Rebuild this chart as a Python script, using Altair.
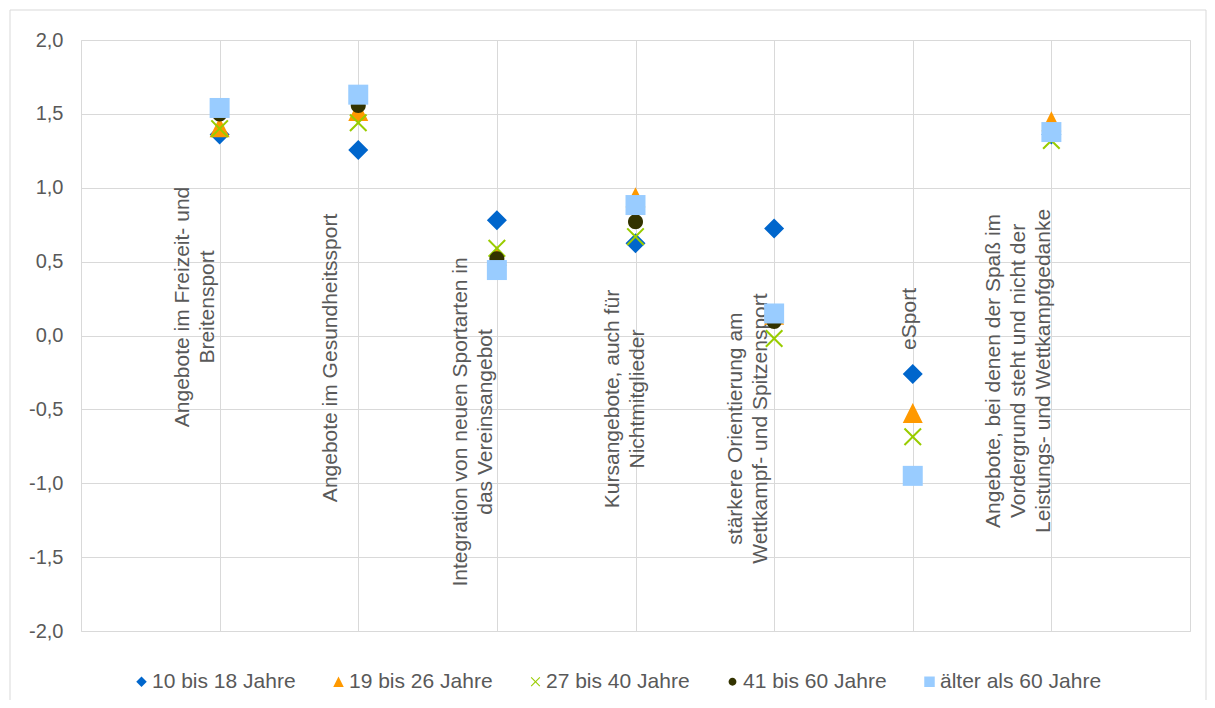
import altair as alt
import pandas as pd

categories = [
    "Angebote im Freizeit- und\nBreitensport",
    "Angebote im Gesundheitssport",
    "Integration von neuen Sportarten in\ndas Vereinsangebot",
    "Kursangebote, auch für\nNichtmitglieder",
    "stärkere Orientierung am\nWettkampf- und Spitzensport",
    "eSport",
    "Angebote, bei denen der Spaß im\nVordergrund steht und nicht der\nLeistungs- und Wettkampfgedanke",
]
series = ["10 bis 18 Jahre", "19 bis 26 Jahre", "27 bis 40 Jahre",
          "41 bis 60 Jahre", "älter als 60 Jahre"]

v_10_18 = [1.36, 1.255, 0.78, 0.624, 0.725, -0.26, 1.36]
v_19_26 = [1.41, 1.52, 0.54, 0.935, 0.14, -0.525, 1.45]
v_27_40 = [1.40, 1.44, 0.59, 0.669, -0.02, -0.685, 1.32]
v_41_60 = [1.50, 1.557, 0.52, 0.77, 0.095, -0.95, 1.37]
v_60plus = [1.54, 1.63, 0.443, 0.883, 0.149, -0.95, 1.377]

# category label anchors (value units) and shift (category units)
label_y = [0.193, -0.152, -0.585, -0.43, -0.63, 0.112, -0.24]
label_shift = [-0.265, -0.196, -0.256, -0.162, -0.278, -0.02, -0.411]

y_ticks = [-2.0, -1.5, -1.0, -0.5, 0.0, 0.5, 1.0, 1.5, 2.0]

colors = ["#0066CC", "#FF9900", "#99CC00", "#333300", "#99CCFF"]
x_path = ("M-0.756,-0.9L0,-0.144L0.756,-0.9L0.9,-0.756L0.144,0L0.9,0.756"
          "L0.756,0.9L0,0.144L-0.756,0.9L-0.9,0.756L-0.144,0L-0.9,-0.756Z")
circle_path = "M0.75,0A0.75,0.75 0 1,1 -0.75,0A0.75,0.75 0 1,1 0.75,0Z"
shapes = ["diamond", "M0,-1L1,1L-1,1Z", x_path, circle_path, "square"]

rows = []
for s, vals in zip(series, [v_10_18, v_19_26, v_27_40, v_41_60, v_60plus]):
    for i, v in enumerate(vals):
        rows.append({"series": s, "pos": i + 1, "value": v})
df = pd.DataFrame(rows)

lab = pd.DataFrame({
    "text": categories,
    "pos": [i + 1 + sh for i, sh in enumerate(label_shift)],
    "value": label_y,
})

FONT = "Liberation Sans"
TXT = "#595959"

x_enc = alt.X("pos:Q", scale=alt.Scale(domain=[0, 8], nice=False, zero=False),
              axis=alt.Axis(values=[1, 2, 3, 4, 5, 6, 7], labels=False, ticks=False,
                            domain=False, grid=True, title=None))
y_enc = alt.Y("value:Q", scale=alt.Scale(domain=[-2, 2], nice=False, zero=False),
              axis=alt.Axis(values=y_ticks, title=None, ticks=False, tickSize=0,
                            domain=False, labelPadding=18,
                            labelExpr="replace(replace(format(datum.value, '.1f'), '.', ','), '\u2212', '-')"))

legend = alt.Legend(title=None, orient="none", legendX=50, legendY=631,
                    direction="horizontal", labelFont=FONT, labelFontSize=21,
                    labelColor=TXT, symbolSize=110, symbolStrokeWidth=0,
                    labelOffset=0, columnPadding=32, labelLimit=400)

points = alt.Chart(df).mark_point(filled=True, size=400, opacity=1).encode(
    x=x_enc,
    y=y_enc,
    color=alt.Color("series:N", scale=alt.Scale(domain=series, range=colors), legend=legend),
    shape=alt.Shape("series:N", scale=alt.Scale(domain=series, range=shapes), legend=legend),
)

labels = alt.Chart(lab).mark_text(
    angle=270, align="center", baseline="middle", lineBreak="\n",
    font=FONT, fontSize=21, lineHeight=25, color=TXT,
).encode(x=alt.X("pos:Q"), y=alt.Y("value:Q"), text="text:N")

frame = alt.Chart(pd.DataFrame({"f": [0]})).mark_rect(
    fillOpacity=0, stroke="#D9D9D9", strokeWidth=1
).encode(x=alt.value(-71), x2=alt.value(1125), y=alt.value(-30), y2=alt.value(700))

chart = alt.layer(frame, labels, points).properties(
    width=1109, height=591,
    autosize=alt.AutoSizeParams(type="none"),
    padding={"left": 73, "top": 32, "right": 17, "bottom": 69},
).configure_view(stroke="#D9D9D9", strokeWidth=1).configure_axis(
    labelFont=FONT, labelFontSize=20, labelColor=TXT,
    gridColor="#D9D9D9", gridWidth=1,
)

chart.save("out.html", embed_options={"renderer": "svg", "actions": False})
